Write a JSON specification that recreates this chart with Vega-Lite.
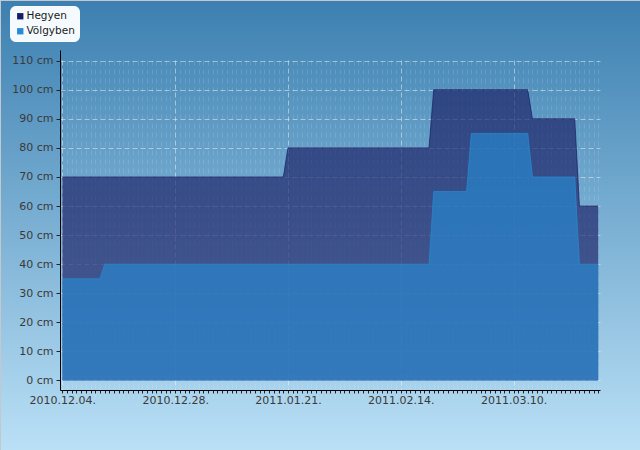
{
  "$schema": "https://vega.github.io/schema/vega-lite/v6.json",
  "width": 640,
  "height": 450,
  "autosize": {"type": "none"},
  "padding": 0,
  "background": "#ffffff",
  "config": {
    "font": "DejaVu Sans",
    "view": {
      "fill": {"gradient": "linear", "x1": 0, "y1": 0, "x2": 0, "y2": 1,
        "stops": [{"offset": 0, "color": "#3c80b1"}, {"offset": 1, "color": "#bae0f6"}]},
      "stroke": "#c4c8cc",
      "strokeWidth": 1
    },
    "axis": {"labelFont": "DejaVu Sans", "labelFontSize": 11, "labelColor": "#3a3a3a", "domainColor": "#000000", "tickColor": "#222222", "title": null}
  },
  "data": {
    "values": [
      {"date": "2010-12-04", "series": "Hegyen", "cm": 70},
      {"date": "2011-01-20", "series": "Hegyen", "cm": 70},
      {"date": "2011-01-21", "series": "Hegyen", "cm": 80},
      {"date": "2011-02-20", "series": "Hegyen", "cm": 80},
      {"date": "2011-02-21", "series": "Hegyen", "cm": 100},
      {"date": "2011-03-13", "series": "Hegyen", "cm": 100},
      {"date": "2011-03-14", "series": "Hegyen", "cm": 90},
      {"date": "2011-03-23", "series": "Hegyen", "cm": 90},
      {"date": "2011-03-24", "series": "Hegyen", "cm": 60},
      {"date": "2011-03-28", "series": "Hegyen", "cm": 60},
      {"date": "2010-12-04", "series": "Völgyben", "cm": 35},
      {"date": "2010-12-12", "series": "Völgyben", "cm": 35},
      {"date": "2010-12-13", "series": "Völgyben", "cm": 40},
      {"date": "2011-02-20", "series": "Völgyben", "cm": 40},
      {"date": "2011-02-21", "series": "Völgyben", "cm": 65},
      {"date": "2011-02-28", "series": "Völgyben", "cm": 65},
      {"date": "2011-03-01", "series": "Völgyben", "cm": 85},
      {"date": "2011-03-13", "series": "Völgyben", "cm": 85},
      {"date": "2011-03-14", "series": "Völgyben", "cm": 70},
      {"date": "2011-03-23", "series": "Völgyben", "cm": 70},
      {"date": "2011-03-24", "series": "Völgyben", "cm": 40},
      {"date": "2011-03-28", "series": "Völgyben", "cm": 40}
    ]
  },
  "mark": {"type": "area", "interpolate": "linear", "fillOpacity": 0.65, "line": {"strokeWidth": 1, "opacity": 0.7}},
  "encoding": {
    "x": {
      "field": "date", "type": "temporal",
      "scale": {"type": "utc",
        "domain": [{"year": 2010, "month": 12, "date": 3, "hours": 12, "utc": true}, {"year": 2011, "month": 3, "date": 28, "hours": 9, "utc": true}],
        "range": [60, 600]},
      "axis": {
        "orient": "bottom", "offset": -60,
        "tickCount": {"interval": "day", "step": 1},
        "labelExpr": "(round((datum.value - utc(2010, 11, 4)) / 864e5) % 24 == 0) ? utcFormat(datum.value, '%Y.%m.%d.') : ''",
        "labelOverlap": false, "labelBound": false, "labelFlush": false,
        "labelPadding": 1, "tickSize": 3,
        "grid": true, "gridColor": "#ffffff",
        "gridOpacity": {"condition": {"test": "round((datum.value - utc(2010, 11, 4)) / 864e5) % 24 == 0", "value": 0.45}, "value": 0.12},
        "gridDash": {"condition": {"test": "round((datum.value - utc(2010, 11, 4)) / 864e5) % 24 == 0", "value": [5, 3]}, "value": [5, 4]}
      }
    },
    "y": {
      "field": "cm", "type": "quantitative", "stack": null,
      "scale": {"domain": [-3.27, 113.68], "range": [390, 50], "nice": false},
      "axis": {
        "orient": "left", "offset": -60,
        "values": [0, 10, 20, 30, 40, 50, 60, 70, 80, 90, 100, 110],
        "labelExpr": "datum.value + ' cm'",
        "tickSize": 4, "labelPadding": 3,
        "grid": true, "gridColor": "#ffffff", "gridOpacity": 0.45, "gridDash": [5, 3]
      }
    },
    "color": {
      "field": "series", "type": "nominal",
      "scale": {"domain": ["Hegyen", "Völgyben"], "range": ["#181c62", "#268bd2"]},
      "legend": {
        "orient": "none", "legendX": 10, "legendY": 6, "title": null,
        "symbolType": "square", "symbolSize": 40, "symbolOpacity": 1, "symbolStrokeWidth": 0,
        "fillColor": "#f5faff", "cornerRadius": 6, "padding": 5,
        "labelFontSize": 10.5, "labelColor": "#1a1a1a", "rowPadding": 4, "labelOffset": 1
      }
    }
  }
}
